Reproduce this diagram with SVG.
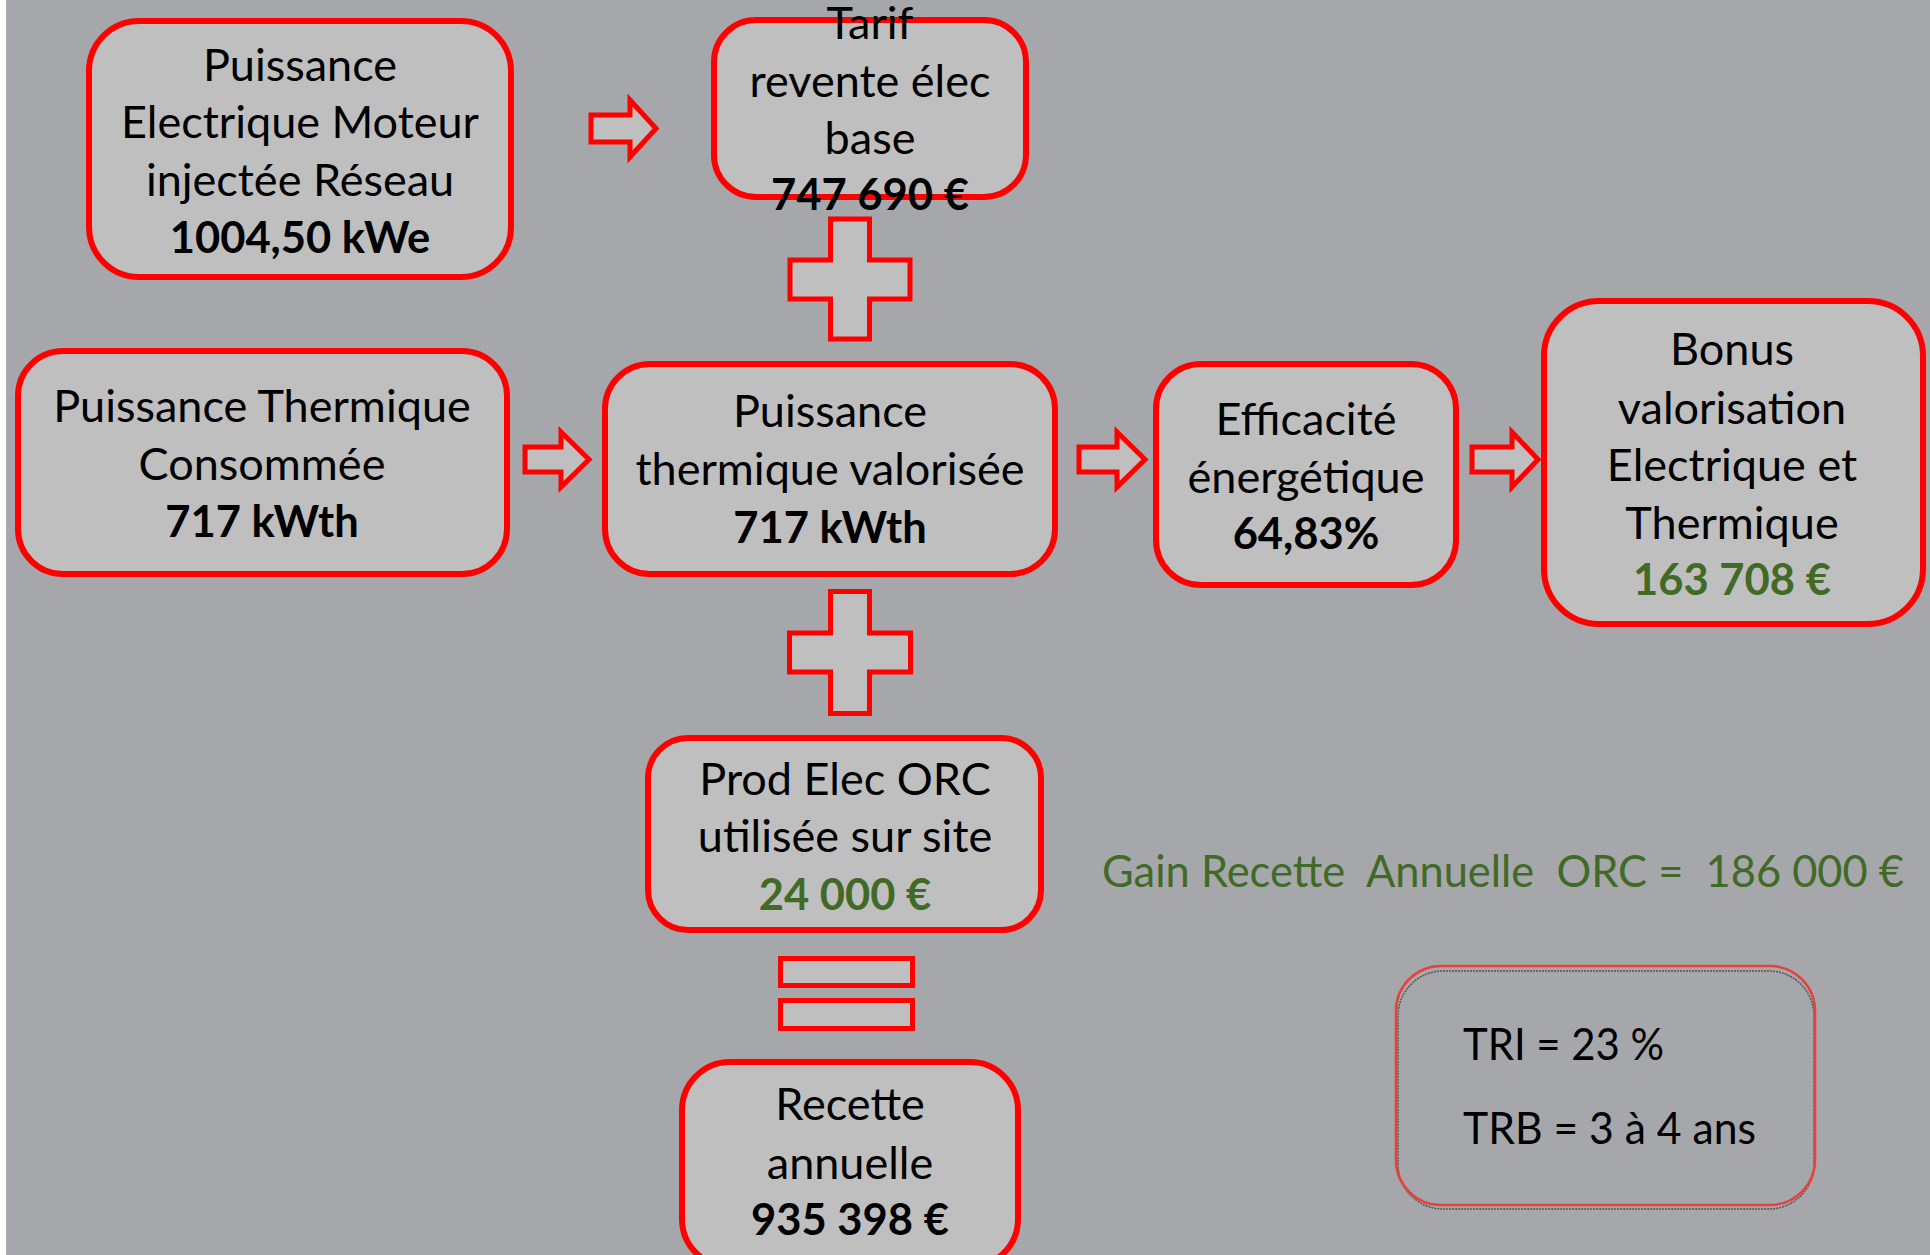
<svg xmlns="http://www.w3.org/2000/svg" width="1930" height="1255" viewBox="0 0 1930 1255">
<style>
.bg{fill:#a6a7ab}
.box{fill:#bfbfbf;stroke:#ff0000;stroke-width:6}
.sym{fill:#bfbfbf;stroke:#ff0000;stroke-width:5;stroke-linejoin:miter}
text{font-family:Lato,"Open Sans","Liberation Sans",sans-serif;font-size:45px;fill:#000;text-anchor:middle}
.b{font-weight:bold;font-size:43.5px}
.g{fill:#416a26}
.l{text-anchor:start}
</style>
<rect x="0" y="0" width="1930" height="1255" fill="#ffffff"/>
<rect class="bg" x="6" y="0" width="1924" height="1255"/>

<g id="connectors">
<path class="sym" d="M591 115 H630 V100 L656 128.5 L630 157 V142 H591 Z"/>
<path class="sym" d="M525 447 H561 V432 L589 459.5 L561 487 V472 H525 Z"/>
<path class="sym" d="M1079 447 H1117 V432 L1145 459.5 L1117 487 V472 H1079 Z"/>
<path class="sym" d="M1472 447 H1512 V432 L1538 459.5 L1512 487 V472 H1472 Z"/>
<path class="sym" d="M830.5 219 H869.5 V260 H910 V299 H869.5 V339 H830.5 V299 H790 V260 H830.5 Z"/>
<path class="sym" d="M830.5 591.5 H869.5 V633 H910.5 V672 H869.5 V713.5 H830.5 V672 H789.5 V633 H830.5 Z"/>
<rect class="sym" x="780.5" y="958.5" width="132" height="27"/>
<rect class="sym" x="780.5" y="1000.5" width="132" height="28"/>
</g>

<g id="n-puissance-elec">
<rect class="box" x="89" y="21" width="422" height="256" rx="50" ry="50"/>
<text x="300" y="81">Puissance</text>
<text x="300" y="138">Electrique Moteur</text>
<text x="300" y="196">injectée Réseau</text>
<text class="b" x="300" y="253">1004,50 kWe</text>
</g>

<g id="n-tarif">
<rect class="box" x="714" y="20" width="312" height="177" rx="42" ry="42"/>
<text x="870" y="39">Tarif</text>
<text x="870" y="97">revente élec</text>
<text x="870" y="154">base</text>
<text class="b" x="870" y="210">747 690 €</text>
</g>

<g id="n-thermique-conso">
<rect class="box" x="18" y="351" width="489" height="223" rx="45" ry="45"/>
<text x="262" y="422">Puissance Thermique</text>
<text x="262" y="480">Consommée</text>
<text class="b" x="262" y="537">717 kWth</text>
</g>

<g id="n-thermique-valorisee">
<rect class="box" x="605" y="364" width="450" height="210" rx="45" ry="45"/>
<text x="830" y="427">Puissance</text>
<text x="830" y="485">thermique valorisée</text>
<text class="b" x="830" y="543">717 kWth</text>
</g>

<g id="n-efficacite">
<rect class="box" x="1156" y="364" width="300" height="221" rx="45" ry="45"/>
<text x="1306" y="435">Efficacité</text>
<text x="1306" y="493">énergétique</text>
<text class="b" x="1306" y="549">64,83%</text>
</g>

<g id="n-bonus">
<rect class="box" x="1544" y="301" width="379" height="323" rx="55" ry="55"/>
<text x="1732" y="365">Bonus</text>
<text x="1732" y="424">valorisation</text>
<text x="1732" y="481">Electrique et</text>
<text x="1732" y="539">Thermique</text>
<text class="b g" x="1732" y="595">163 708 €</text>
</g>

<g id="n-prod-elec">
<rect class="box" x="648" y="738" width="393" height="192" rx="40" ry="40"/>
<text x="845" y="795">Prod Elec ORC</text>
<text x="845" y="852">utilisée sur site</text>
<text class="b g" x="845" y="910">24 000 €</text>
</g>

<g id="n-recette">
<rect class="box" x="682" y="1062" width="336" height="205" rx="48" ry="48"/>
<text x="850" y="1120">Recette</text>
<text x="850" y="1179">annuelle</text>
<text class="b" x="850" y="1235">935 398 €</text>
</g>

<g id="n-gain">
<text class="g l" x="1102" y="887" xml:space="preserve" textLength="802" lengthAdjust="spacingAndGlyphs">Gain Recette  Annuelle  ORC =  186 000 €</text>
</g>

<g id="n-tri">
<rect x="1398" y="971" width="416" height="238" rx="45" ry="45" fill="none" stroke="#555" stroke-width="1.5" stroke-dasharray="2 1"/>
<rect x="1396" y="966" width="419" height="239" rx="45" ry="45" fill="none" stroke="#e8403a" stroke-width="2.5"/>
<text class="l" x="1463" y="1060" textLength="201" lengthAdjust="spacingAndGlyphs">TRI = 23 %</text>
<text class="l" x="1463" y="1144" textLength="293" lengthAdjust="spacingAndGlyphs">TRB = 3 à 4 ans</text>
</g>
</svg>
